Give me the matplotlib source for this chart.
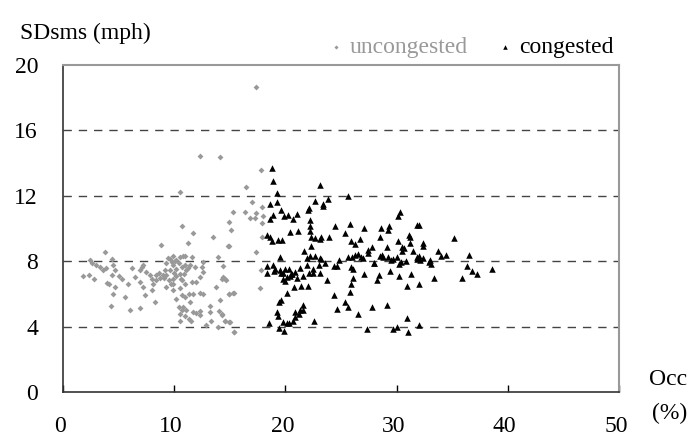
import numpy as np
import matplotlib
matplotlib.use("Agg")
import matplotlib.pyplot as plt
import matplotlib.transforms as mtransforms

plt.rcParams['font.family'] = ['Liberation Serif', 'DejaVu Serif']

# uncongested (gray diamonds): Occ (%), SDsms (mph)
unc_occ = [12.3, 14.1, 10.5, 15.3, 14.9, 10.7, 15.1, 11.7, 13.5, 11.2, 8.8, 14.9,
           3.8, 4.4, 13.9, 2.4, 2.6, 3.0, 3.3, 3.9, 1.8, 2.3, 2.8, 3.6, 4.5, 4.7,
           4.4, 5.0, 4.1, 4.0, 5.3, 5.8, 4.7, 4.5, 5.6, 4.3, 6.0, 6.9, 6.2, 6.5,
           6.9, 7.1, 7.2, 7.5, 6.9, 7.2, 7.4, 8.0, 8.1, 8.0, 7.8, 8.4, 8.3, 8.4,
           8.7, 9.0, 9.2, 9.3, 9.4, 9.6, 9.9, 9.8, 10.2, 10.5, 10.8, 11.0, 9.9,
           10.2, 9.6, 9.3, 9.5, 9.9, 10.2, 10.5, 10.7, 11.0, 11.1, 11.4, 11.6,
           9.3, 9.9, 10.5, 10.7, 11.0, 11.6, 12.0, 12.3, 12.6, 12.5, 12.6, 11.9,
           9.9, 10.2, 10.7, 11.0, 11.3, 11.7, 12.3, 12.6, 10.4, 10.8, 10.7, 11.1,
           11.4, 11.7, 12.0, 10.5, 11.0, 11.3, 11.5, 10.5, 12.3, 12.3, 13.2, 13.2,
           13.3, 12.9, 13.9, 14.0, 14.1, 14.3, 14.6, 14.9, 15.4, 13.8, 14.3, 14.7,
           14.4, 14.9, 15.3, 17.8, 16.5, 17.0, 16.4, 16.8, 17.3, 17.4, 17.9, 18.0,
           17.9, 17.9, 14.8, 17.4, 14.6, 14.4, 17.8, 17.7, 14.9, 15.4, 14.3, 14.6,
           15.0, 15.4, 17.4, 10.0, 10.4, 10.9, 9.7, 10.6, 11.2, 9.1, 8.6, 10.1]
unc_sd = [14.45, 14.35, 12.24, 11.0, 10.37, 10.16, 9.9, 9.7, 9.5, 9.12, 9.02, 8.94,
          8.57, 8.16, 8.27, 8.06, 7.9, 7.76, 7.65, 7.6, 7.1, 7.14, 6.94, 7.45, 7.76,
          7.45, 7.14, 7.08, 6.63, 6.67, 6.94, 6.63, 6.43, 5.98, 5.82, 5.24, 5.04,
          5.14, 7.6, 7.04, 7.45, 7.65, 7.76, 7.35, 6.73, 6.43, 5.92, 6.22, 6.63,
          6.94, 7.14, 6.84, 5.51, 7.14, 7.0, 7.14, 7.45, 7.86, 8.22, 8.16, 8.31,
          7.96, 8.06, 8.27, 8.31, 8.31, 7.76, 7.55, 7.49, 7.14, 6.84, 6.94, 7.08,
          7.24, 7.65, 7.76, 7.45, 7.76, 8.27, 6.43, 6.63, 6.33, 6.84, 6.63, 6.73,
          6.73, 7.04, 7.35, 7.65, 7.96, 7.65, 6.22, 5.71, 5.92, 5.82, 5.98, 6.02,
          6.06, 6.02, 5.2, 5.2, 5.0, 5.0, 5.51, 4.9, 4.84, 4.8, 4.63, 4.49, 4.35,
          4.35, 4.94, 4.69, 5.24, 4.9, 4.35, 4.08, 3.98, 4.94, 5.61, 4.69, 4.35,
          4.27, 3.67, 6.43, 6.94, 6.84, 7.69, 6.02, 6.06, 13.6, 12.55, 11.6, 11.0,
          10.66, 10.66, 10.97, 11.33, 10.76, 10.31, 9.5, 8.92, 8.57, 6.94, 7.04,
          7.49, 6.39, 5.98, 6.06, 4.8, 4.35, 4.27, 3.67, 18.67, 7.3, 7.9, 7.2,
          6.6, 6.9, 7.6, 7.0, 7.3, 8.0]

# congested (black triangles)
con_occ = [18.77, 18.9, 19.2, 18.6, 19.2, 19.6, 18.9, 18.6, 19.9, 20.2, 20.7, 21.0,
           20.4, 21.1, 18.3, 18.6, 18.8, 19.3, 19.7, 19.5, 18.3, 18.3, 18.9, 19.1,
           19.5, 20.0, 20.3, 19.8, 19.8, 20.1, 20.4, 20.6, 20.9, 21.3, 21.6, 21.9,
           22.1, 22.5, 23.0, 23.1, 23.7, 22.5, 22.0, 21.4, 20.8, 20.1, 19.4, 19.6,
           19.2, 19.3, 19.8, 19.4, 19.9, 20.1, 20.3, 18.5, 20.7, 20.9, 21.2, 21.3,
           20.9, 21.6, 21.6, 22.6, 23.1, 22.7, 22.1, 22.0, 23.4, 23.8, 23.4, 22.2,
           22.2, 22.2, 22.3, 22.7, 23.1, 23.2, 23.9, 22.3, 21.7, 21.9, 22.2, 22.7,
           23.1, 23.2, 23.6, 24.4, 24.6, 24.4, 24.6, 25.4, 25.6, 25.8, 25.9, 26.1,
           26.1, 25.9, 25.6, 26.0, 25.9, 26.3, 26.7, 25.4, 25.8, 24.5, 25.6, 26.5,
           26.8, 27.1, 27.4, 27.4, 27.8, 27.1, 26.5, 27.3, 27.8, 28.2, 28.0, 28.4,
           28.5, 28.6, 28.5, 28.7, 28.8, 29.1, 29.1, 29.3, 29.2, 29.4, 29.2, 29.7,
           30.0, 30.1, 30.1, 30.3, 30.2, 30.2, 30.5, 30.5, 30.7, 30.8, 30.9, 29.7,
           30.0, 30.9, 31.0, 31.1, 31.2, 31.2, 31.5, 31.8, 32.0, 31.8, 32.1, 32.0,
           32.0, 31.3, 32.4, 32.4, 32.4, 32.9, 33.1, 33.4, 33.7, 34.0, 34.4, 35.2,
           35.9, 36.3, 36.5, 36.8, 37.2, 38.6, 32.0, 31.8, 33.0, 30.4, 19.0, 20.5,
           21.0, 19.6, 20.0, 24.8, 27.0, 29.5, 28.0, 26.3]
con_sd = [13.69, 12.93, 12.15, 11.5, 11.6, 11.1, 10.8, 10.55, 10.75, 10.8, 10.55, 10.9,
          9.8, 9.85, 9.6, 9.45, 9.25, 9.3, 9.3, 8.27, 7.7, 7.3, 7.75, 7.5, 7.45,
          7.5, 7.5, 7.25, 6.9, 7.05, 7.1, 7.2, 7.35, 7.6, 7.1, 7.75, 7.3, 7.3,
          7.75, 7.3, 6.85, 7.5, 6.5, 6.5, 6.4, 6.05, 5.5, 5.6, 4.9, 4.65, 4.3,
          3.9, 3.75, 4.2, 4.2, 4.2, 4.35, 4.6, 4.8, 5.0, 4.9, 5.35, 5.0, 4.35,
          12.66, 11.65, 11.25, 11.1, 11.5, 11.8, 11.4, 10.5, 10.15, 9.85, 9.5,
          9.4, 9.35, 9.45, 9.45, 8.9, 8.6, 8.2, 8.3, 8.3, 8.2, 8.15, 7.9, 7.7,
          7.7, 5.95, 5.1, 5.5, 5.2, 6.1, 6.6, 7.0, 7.55, 7.65, 8.27, 8.27, 9.25,
          9.05, 9.35, 9.7, 10.3, 10.15, 12.0, 8.43, 8.27, 7.2, 8.7, 8.5, 8.85,
          10.05, 4.75, 3.87, 5.2, 6.85, 7.9, 7.15, 8.3, 10.05, 9.5, 8.4, 8.27,
          5.3, 8.85, 10.15, 9.9, 7.4, 8.27, 8.15, 8.27, 9.25, 10.75, 11.0, 7.8,
          7.1, 8.85, 8.65, 8.8, 8.0, 6.5, 3.87, 3.97, 4.55, 3.65, 9.6, 9.45,
          9.1, 8.65, 10.2, 10.2, 8.27, 8.05, 6.6, 4.1, 7.2, 9.1, 8.9, 8.2, 7.95,
          7.85, 6.95, 8.65, 8.3, 8.4, 9.4, 7.0, 7.7, 8.4, 7.4, 7.2, 7.5, 8.3,
          8.15, 8.05, 7.95, 7.4, 7.2, 7.0, 7.3, 6.8, 8.1, 8.2, 8.1, 7.9, 8.4]

x_ticks = [0, 10, 20, 30, 40, 50]
y_ticks = [0, 4, 8, 12, 16, 20]

fs = 17

fig = plt.figure(figsize=(6.91, 4.48), dpi=100)
ax = fig.add_axes([0.0912, 0.125, 0.8046, 0.730])

ax.scatter(unc_occ, unc_sd, marker='D', s=9, color='#999999', linewidths=0,
           label='uncongested', zorder=3)
ax.scatter(con_occ, con_sd, marker='^', s=22, color='black', linewidths=0,
           label='congested', zorder=3)

ax.set_xlim(0, 50)
ax.set_ylim(0, 20)
ax.set_xticks(x_ticks)
ax.set_yticks(y_ticks)
for y in y_ticks[1:-1]:
    ax.axhline(y, color='#444444', lw=1.0, dashes=(6, 5), zorder=1)

ax.tick_params(axis='x', direction='in', length=5, width=1, pad=17, labelsize=fs)
ax.tick_params(axis='y', length=0, pad=18, labelsize=fs)

# x labels sit a little left of their ticks in the original
shift = mtransforms.ScaledTranslation(-3 / 100, 0, fig.dpi_scale_trans)
for lab in ax.get_xticklabels():
    lab.set_transform(lab.get_transform() + shift)

ax.spines['left'].set_color('#333333')
ax.spines['bottom'].set_color('#333333')
ax.spines['left'].set_linewidth(1.2)
ax.spines['bottom'].set_linewidth(1.2)
ax.spines['top'].set_color('#999999')
ax.spines['right'].set_color('#999999')
ax.spines['top'].set_linewidth(1.5)
ax.spines['right'].set_linewidth(1.5)

fig.text(20 / 691, 1 - 39 / 448, 'SDsms (mph)', fontsize=fs, va='baseline', ha='left')
fig.text(649 / 691, 1 - 385 / 448, 'Occ', fontsize=fs, va='baseline', ha='left')
fig.text(652 / 691, 1 - 419 / 448, '(%)', fontsize=fs, va='baseline', ha='left')

leg = fig.legend(loc='lower left', bbox_to_anchor=(330 / 691, 1 - 58 / 448), ncol=2,
                 frameon=False, fontsize=fs, borderpad=0, borderaxespad=0,
                 handlelength=0.5, handletextpad=0.35, columnspacing=1.3,
                 markerscale=0.7, labelcolor=['#999999', 'black'])

plt.savefig('out.png', dpi=100)
